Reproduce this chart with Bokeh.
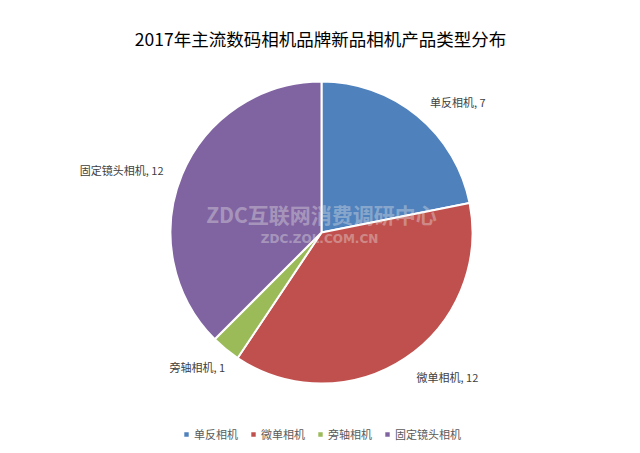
import math
from bokeh.plotting import figure
from bokeh.models import Range1d, Label, Legend, LegendItem, ColumnDataSource
from bokeh.embed import file_html
from bokeh.resources import INLINE

# ---- data ----
title_text = "2017年主流数码相机品牌新品相机产品类型分布"
categories = ["单反相机", "微单相机", "旁轴相机", "固定镜头相机"]
values = [7, 12, 1, 12]
colors = ["#4F81BD", "#C0504D", "#9BBB59", "#8064A2"]
watermark_main = "ZDC互联网消费调研中心"
watermark_sub = "ZDC.ZOL.COM.CN"

# ---- layout / style ----
W, H = 624, 445
FONT = "Noto Sans CJK SC"
cx, cy, r = 321, 453 - 232, 151
label_gap = 20
label_dx = [0, 0, 12, 0]
label_dy = [-2, -2, -2, -3]

p = figure(width=W, height=H, output_backend="svg", toolbar_location=None,
           x_range=Range1d(0, W), y_range=Range1d(453 - H, 453),
           min_border=0, outline_line_color=None, background_fill_color="white")
p.axis.visible = False
p.xgrid.visible = False
p.ygrid.visible = False

total = float(sum(values))
starts, ends, cum = [], [], 0.0
for v in values:
    starts.append(math.pi / 2 - 2 * math.pi * cum / total)
    cum += v
    ends.append(math.pi / 2 - 2 * math.pi * cum / total)

renderers = []
for i, cat in enumerate(categories):
    src = ColumnDataSource(dict(x=[cx], y=[cy], s=[starts[i]], e=[ends[i]]))
    rr = p.wedge(x="x", y="y", radius=r, start_angle="s", end_angle="e",
                 direction="clock", fill_color=colors[i], line_color="white",
                 line_width=2, source=src)
    renderers.append(rr)
    mid = (starts[i] + ends[i]) / 2
    lx = cx + (r + label_gap) * math.cos(mid) + label_dx[i]
    ly = cy + (r + label_gap) * math.sin(mid) + label_dy[i]
    align = "left" if math.cos(mid) >= 0 else "right"
    p.add_layout(Label(x=lx, y=ly, text=f"{cat}, {values[i]}", text_align=align,
                       text_baseline="middle", text_font=FONT,
                       text_font_size="11px", text_color="#404040"))

# watermark
p.add_layout(Label(x=cx, y=453 - 213, text=watermark_main, text_align="center",
                   text_baseline="middle", text_font=FONT, text_font_style="bold",
                   text_font_size="21px", text_color="#e6e6e6", text_alpha=0.4))
p.add_layout(Label(x=cx - 2, y=453 - 238, text=watermark_sub, text_align="center",
                   text_baseline="middle", text_font="DejaVu Sans", text_font_style="bold",
                   text_font_size="12px", text_color="#e6e6e6", text_alpha=0.4))

# title
p.add_layout(Label(x=320, y=453 - 38, text=title_text, text_align="center",
                   text_baseline="middle", text_font=FONT,
                   text_font_size="17.5px", text_color="#000000"))

legend = Legend(items=[LegendItem(label=c, renderers=[renderers[i]]) for i, c in enumerate(categories)],
                orientation="horizontal", location=(182, 3),
                glyph_width=8, glyph_height=8, label_standoff=4, spacing=11,
                padding=0, margin=0, border_line_alpha=0, background_fill_alpha=0,
                label_text_font=FONT, label_text_font_size="11px",
                label_text_color="#595959", label_height=12)
p.add_layout(legend)

open("out.html", "w").write(file_html(p, INLINE))
